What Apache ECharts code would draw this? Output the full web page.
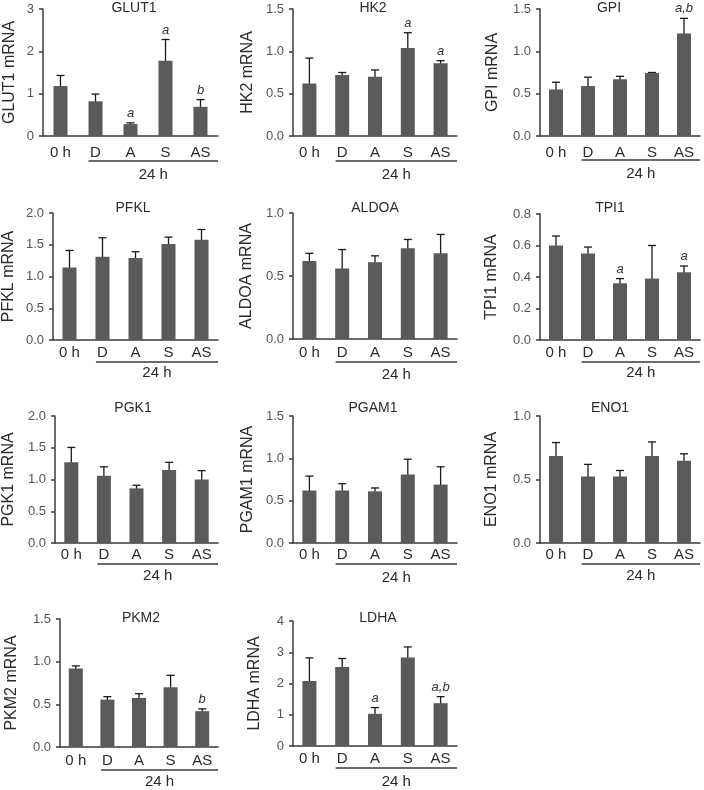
<!DOCTYPE html>
<html><head><meta charset="utf-8">
<script src="https://cdn.jsdelivr.net/npm/echarts@6/dist/echarts.min.js"></script>
<style>html,body{margin:0;padding:0;background:#fff}#c{width:704px;height:790px}</style>
</head><body><div id="c"></div>
<script>
// ---------- data ----------
const categories = ['0 h', 'D', 'A', 'S', 'AS'];
const groupLabel = '24 h';
const groupFrom = 'D', groupTo = 'AS';

const GLUT1_mean = [1.18, 0.82, 0.28, 1.78, 0.69];
const GLUT1_err  = [0.25, 0.17, 0.03, 0.50, 0.17];
const GLUT1_sig  = ['', '', 'a', 'a', 'b'];
const GLUT1_ticks = [0, 1, 2, 3];

const HK2_mean = [0.62, 0.72, 0.70, 1.04, 0.86];
const HK2_err  = [0.30, 0.03, 0.08, 0.18, 0.03];
const HK2_sig  = ['', '', '', 'a', 'a'];
const HK2_ticks = [0.0, 0.5, 1.0, 1.5];

const GPI_mean = [0.55, 0.59, 0.67, 0.745, 1.21];
const GPI_err  = [0.085, 0.105, 0.035, 0.005, 0.18];
const GPI_sig  = ['', '', '', '', 'a,b'];
const GPI_ticks = [0.0, 0.5, 1.0, 1.5];

const PFKL_mean = [1.14, 1.31, 1.29, 1.51, 1.58];
const PFKL_err  = [0.27, 0.30, 0.10, 0.11, 0.16];
const PFKL_sig  = ['', '', '', '', ''];
const PFKL_ticks = [0.0, 0.5, 1.0, 1.5, 2.0];

const ALDOA_mean = [0.62, 0.56, 0.61, 0.72, 0.68];
const ALDOA_err  = [0.06, 0.15, 0.05, 0.07, 0.15];
const ALDOA_sig  = ['', '', '', '', ''];
const ALDOA_ticks = [0.0, 0.5, 1.0];

const TPI1_mean = [0.60, 0.55, 0.36, 0.39, 0.43];
const TPI1_err  = [0.06, 0.04, 0.03, 0.21, 0.04];
const TPI1_sig  = ['', '', 'a', '', 'a'];
const TPI1_ticks = [0.0, 0.2, 0.4, 0.6, 0.8];

const PGK1_mean = [1.27, 1.06, 0.86, 1.15, 1.00];
const PGK1_err  = [0.235, 0.14, 0.05, 0.12, 0.14];
const PGK1_sig  = ['', '', '', '', ''];
const PGK1_ticks = [0.0, 0.5, 1.0, 1.5, 2.0];

const PGAM1_mean = [0.62, 0.62, 0.61, 0.81, 0.69];
const PGAM1_err  = [0.17, 0.08, 0.04, 0.18, 0.21];
const PGAM1_sig  = ['', '', '', '', ''];
const PGAM1_ticks = [0.0, 0.5, 1.0, 1.5];

const ENO1_mean = [0.686, 0.524, 0.524, 0.686, 0.647];
const ENO1_err  = [0.105, 0.095, 0.047, 0.11, 0.055];
const ENO1_sig  = ['', '', '', '', ''];
const ENO1_ticks = [0.0, 0.5, 1.0];

const PKM2_mean = [0.92, 0.555, 0.575, 0.70, 0.42];
const PKM2_err  = [0.03, 0.035, 0.05, 0.14, 0.027];
const PKM2_sig  = ['', '', '', '', 'b'];
const PKM2_ticks = [0.0, 0.5, 1.0, 1.5];

const LDHA_mean = [2.08, 2.53, 1.03, 2.83, 1.37];
const LDHA_err  = [0.74, 0.27, 0.20, 0.34, 0.21];
const LDHA_sig  = ['', '', 'a', '', 'a,b'];
const LDHA_ticks = [0, 1, 2, 3, 4];

const panels = [
  {gene: 'GLUT1', mean: GLUT1_mean, err: GLUT1_err, sig: GLUT1_sig, ticks: GLUT1_ticks, dec: 0},
  {gene: 'HK2',   mean: HK2_mean,   err: HK2_err,   sig: HK2_sig,   ticks: HK2_ticks,   dec: 1},
  {gene: 'GPI',   mean: GPI_mean,   err: GPI_err,   sig: GPI_sig,   ticks: GPI_ticks,   dec: 1},
  {gene: 'PFKL',  mean: PFKL_mean,  err: PFKL_err,  sig: PFKL_sig,  ticks: PFKL_ticks,  dec: 1},
  {gene: 'ALDOA', mean: ALDOA_mean, err: ALDOA_err, sig: ALDOA_sig, ticks: ALDOA_ticks, dec: 1},
  {gene: 'TPI1',  mean: TPI1_mean,  err: TPI1_err,  sig: TPI1_sig,  ticks: TPI1_ticks,  dec: 1},
  {gene: 'PGK1',  mean: PGK1_mean,  err: PGK1_err,  sig: PGK1_sig,  ticks: PGK1_ticks,  dec: 1},
  {gene: 'PGAM1', mean: PGAM1_mean, err: PGAM1_err, sig: PGAM1_sig, ticks: PGAM1_ticks, dec: 1},
  {gene: 'ENO1',  mean: ENO1_mean,  err: ENO1_err,  sig: ENO1_sig,  ticks: ENO1_ticks,  dec: 1},
  {gene: 'PKM2',  mean: PKM2_mean,  err: PKM2_err,  sig: PKM2_sig,  ticks: PKM2_ticks,  dec: 1},
  {gene: 'LDHA',  mean: LDHA_mean,  err: LDHA_err,  sig: LDHA_sig,  ticks: LDHA_ticks,  dec: 0}
];

// ---------- layout (pixels) ----------
// [left, top, right, bottom, titleX, titleY, nameGap, labelMargin, lineGap, textGap]
const layout = [
  [43, 9, 218, 136, 134, 8, 25, 9, 25, 39],
  [293, 9, 457, 136, 373, 8, 37, 9, 25, 39],
  [540, 9, 700, 136, 609, 8, 39, 9, 24, 38],
  [53, 213, 218, 340, 133, 208, 36, 5, 22, 33],
  [293, 213, 457, 339, 375, 208, 38, 6, 23, 36],
  [540, 214, 700, 340, 610, 208, 40, 5, 22, 33],
  [53, 416, 218, 543, 133, 408, 38, 4, 21, 33],
  [293, 416, 457, 543, 373, 408, 37, 4, 21, 35],
  [540, 416, 700, 543, 610, 408, 40, 4, 21, 33],
  [60, 619, 218, 747, 141, 618, 40, 6, 23, 35],
  [293, 621, 457, 746, 378, 618, 30, 5, 22, 36]
];

const FONT = "'Liberation Sans', Arial, sans-serif";
const TXT = '#2b2b2b';
const AXIS = '#3a3a3a';
const BAR = '#5a5a5a';

const grid = [], xAxis = [], yAxis = [], series = [], graphic = [];
const fromIdx = categories.indexOf(groupFrom), toIdx = categories.indexOf(groupTo);

panels.forEach((p, i) => {
  const L = layout[i];
  grid.push({left: L[0], top: L[1], width: L[2] - L[0], height: L[3] - L[1], containLabel: false});
  xAxis.push({
    type: 'category', gridIndex: i, data: categories,
    axisLine: {lineStyle: {color: AXIS, width: 1.5}},
    axisTick: {show: false},
    axisLabel: {color: TXT, fontSize: 15, fontFamily: FONT, margin: L[7], interval: 0}
  });
  const tk = p.ticks;
  yAxis.push({
    type: 'value', gridIndex: i,
    min: tk[0], max: tk[tk.length - 1], interval: tk[1] - tk[0],
    name: p.gene + ' mRNA', nameLocation: 'middle', nameGap: L[6],
    nameTextStyle: {color: TXT, fontSize: 16, fontFamily: FONT},
    axisLine: {show: true, lineStyle: {color: AXIS, width: 1.5}},
    axisTick: {show: true, length: 4, lineStyle: {color: AXIS, width: 1.5}},
    splitLine: {show: false},
    axisLabel: {color: '#555', fontSize: 13, fontFamily: FONT, margin: 9,
      formatter: v => v.toFixed(p.dec)}
  });
  series.push({
    type: 'bar', xAxisIndex: i, yAxisIndex: i, data: p.mean,
    barWidth: 14, itemStyle: {color: BAR}, silent: true, animation: false
  });
  const sig = p.sig;
  series.push({
    type: 'custom', xAxisIndex: i, yAxisIndex: i, animation: false, silent: true,
    data: p.mean.map((m, k) => [k, m, p.err[k]]),
    renderItem: (params, api) => {
      const x = api.value(0), m = api.value(1), e = api.value(2);
      const t = api.coord([x, m + e]), b = api.coord([x, m - e]);
      const cap = 4, st = {stroke: '#1a1a1a', lineWidth: 1.3};
      const ch = [
        {type: 'line', shape: {x1: t[0], y1: t[1], x2: b[0], y2: b[1]}, style: st},
        {type: 'line', shape: {x1: t[0] - cap, y1: t[1], x2: t[0] + cap, y2: t[1]}, style: st},
        {type: 'line', shape: {x1: b[0] - cap, y1: b[1], x2: b[0] + cap, y2: b[1]}, style: st}
      ];
      const s = sig[params.dataIndex];
      if (s) ch.push({type: 'text', x: t[0], y: t[1] - 3,
        style: {text: s, font: 'italic 13px ' + FONT, fill: '#333', align: 'center', verticalAlign: 'bottom'}});
      return {type: 'group', children: ch};
    }
  });
  series.push({
    type: 'custom', xAxisIndex: i, yAxisIndex: i, animation: false, silent: true,
    data: [[fromIdx, 0]],
    renderItem: (params, api) => {
      const a = api.coord([fromIdx, tk[0]]), b = api.coord([toIdx, tk[0]]);
      const band = api.size([1, 0])[0];
      const x1 = a[0] - band * 0.2, x2 = b[0] + band * 0.5;
      const y = a[1] + L[8];
      return {type: 'group', children: [
        {type: 'line', shape: {x1, y1: y, x2, y2: y}, style: {stroke: AXIS, lineWidth: 1.3}},
        {type: 'text', x: (x1 + x2) / 2, y: a[1] + L[9],
          style: {text: groupLabel, font: '15px ' + FONT, fill: TXT, align: 'center', verticalAlign: 'middle'}}
      ]};
    }
  });
  graphic.push({type: 'text', x: L[4], y: L[5], silent: true,
    style: {text: p.gene, font: '14px ' + FONT, fill: TXT, align: 'center', verticalAlign: 'middle'}});
});

const chart = echarts.init(document.getElementById('c'), null, {renderer: 'canvas'});
chart.setOption({animation: false, backgroundColor: '#fff', grid, xAxis, yAxis, series, graphic});
</script>
</body></html>
